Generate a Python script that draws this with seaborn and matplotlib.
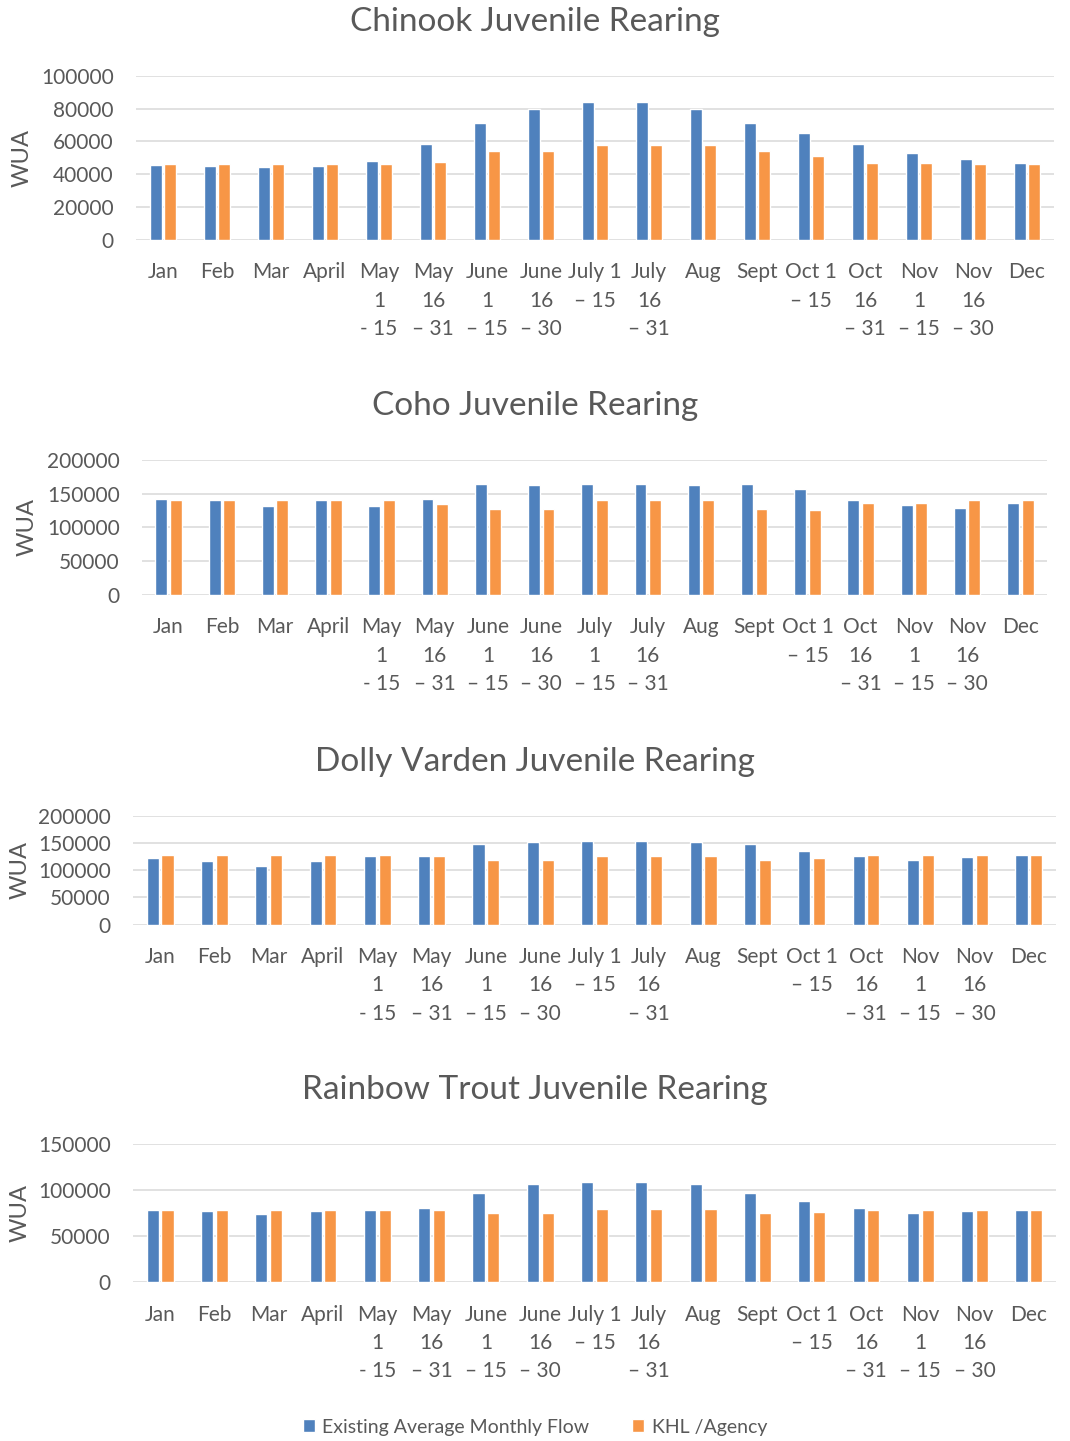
import pandas as pd
import matplotlib
matplotlib.use('Agg')
import matplotlib.pyplot as plt
import seaborn as sns
from matplotlib.patches import Patch

# Series names and colours
series_names = ['Existing Average Monthly Flow', 'KHL /Agency']
series_colors = ['#4F81BD', '#F79646']

# Tick labels (wrapped as in the original)
labels_main = ['Jan', 'Feb', 'Mar', 'April', 'May\n1\n- 15', 'May\n16\n\u2013 31',
               'June\n1\n\u2013 15', 'June\n16\n\u2013 30', 'July 1\n\u2013 15',
               'July\n16\n\u2013 31', 'Aug', 'Sept', 'Oct 1\n\u2013 15',
               'Oct\n16\n\u2013 31', 'Nov\n1\n\u2013 15', 'Nov\n16\n\u2013 30', 'Dec']
labels_coho = ['Jan', 'Feb', 'Mar', 'April', 'May\n1\n- 15', 'May\n16\n\u2013 31',
               'June\n1\n\u2013 15', 'June\n16\n\u2013 30', 'July\n1\n\u2013 15',
               'July\n16\n\u2013 31', 'Aug', 'Sept', 'Oct 1\n\u2013 15',
               'Oct\n16\n\u2013 31', 'Nov\n1\n\u2013 15', 'Nov\n16\n\u2013 30', 'Dec']

# Values
chinook_existing = [45600, 45300, 44200, 45300, 48300, 58600, 71100, 80000, 83800,
                    83800, 80000, 71100, 65000, 58600, 53100, 49300, 46700]
chinook_khl = [46300, 46300, 46300, 46300, 46300, 47500, 54300, 54300, 57800,
               57800, 57800, 54300, 51100, 46700, 46700, 46300, 46300]

coho_existing = [142100, 140200, 131800, 140200, 131800, 141600, 164300, 162800, 163800,
                 163800, 162800, 164300, 156900, 141100, 132300, 128300, 136700]
coho_khl = [139700, 139700, 139700, 139700, 139700, 133800, 127300, 127300, 140200,
            140200, 140200, 127300, 125900, 136700, 136700, 139700, 139700]

dolly_existing = [123200, 116500, 108000, 116500, 125700, 125700, 148300, 152600, 153200,
                  153200, 152600, 148300, 135500, 125700, 119000, 123900, 128100]
dolly_khl = [127500, 127500, 127500, 127500, 127500, 126900, 119000, 119000, 125700,
             125700, 125700, 119000, 122000, 128100, 128100, 128100, 128100]

rainbow_existing = [78300, 77200, 74600, 77200, 78600, 80400, 97100, 106500, 109100,
                    109100, 106500, 97100, 88800, 80400, 75700, 77900, 79000]
rainbow_khl = [78600, 78600, 78600, 78600, 78600, 78600, 75400, 75400, 79700,
               79700, 79700, 75400, 76800, 78600, 78600, 78600, 78600]

sns.set_theme(style='white')
plt.rcParams['font.family'] = ['Lato', 'DejaVu Sans']
text_color = '#595959'
grid_color = '#D9D9D9'

W, H = 1070, 1441
fig = plt.figure(figsize=(W / 100, H / 100), dpi=100)

# (title, labels, existing, khl, ymax, ystep, left px, right px, top px, bottom px, title y px, ylabel x px)
panels = [
    ('Chinook Juvenile Rearing', labels_main, chinook_existing, chinook_khl,
     100000, 20000, 136, 1054, 75.7, 240, 22, 33),
    ('Coho Juvenile Rearing', labels_coho, coho_existing, coho_khl,
     200000, 50000, 142, 1047, 459.7, 595, 406, 38),
    ('Dolly Varden Juvenile Rearing', labels_main, dolly_existing, dolly_khl,
     200000, 50000, 133, 1056, 815.7, 924.7, 762, 31),
    ('Rainbow Trout Juvenile Rearing', labels_main, rainbow_existing, rainbow_khl,
     150000, 50000, 133, 1056, 1144.3, 1282.3, 1090, 31),
]

for title, labels, existing, khl, ymax, ystep, left, right, top, bottom, ty, lx in panels:
    ax = fig.add_axes([left / W, 1 - bottom / H, (right - left) / W, (bottom - top) / H])
    df = pd.DataFrame({
        'period': labels * 2,
        'series': [series_names[0]] * len(labels) + [series_names[1]] * len(labels),
        'WUA': existing + khl,
    })
    sns.barplot(data=df, x='period', y='WUA', hue='series', hue_order=series_names,
                palette=series_colors, width=0.544, gap=0.18, saturation=1,
                legend=False, ax=ax)
    ax.set_ylim(0, ymax)
    ax.set_yticks(range(0, ymax + 1, ystep))
    ax.set_yticklabels([str(v) for v in range(0, ymax + 1, ystep)])
    ax.set_xlim(-0.5, len(labels) - 0.5)
    ax.set_axisbelow(True)
    ax.grid(axis='y', color=grid_color, linewidth=1.1)
    for s in ax.spines.values():
        s.set_visible(False)
    ax.tick_params(axis='both', length=0, labelsize=15, colors=text_color)
    ax.tick_params(axis='x', pad=16)
    ax.tick_params(axis='y', pad=16)
    for t in ax.get_xticklabels():
        t.set_linespacing(1.53)
    ax.set_xlabel('')
    ax.set_ylabel('WUA', fontsize=17, color=text_color)
    ax.yaxis.set_label_coords((lx - left) / (right - left), 0.5)
    fig.text(0.5, 1 - ty / H, title, ha='center', va='center', fontsize=24, color=text_color)

handles = [Patch(facecolor=c, label=n) for n, c in zip(series_names, series_colors)]
fig.legend(handles=handles, loc='center', bbox_to_anchor=(0.5, 1 - 1427 / H), ncol=2,
           frameon=False, fontsize=14, labelcolor=text_color, handlelength=0.6,
           handleheight=0.6, handletextpad=0.4, columnspacing=2.2)

fig.savefig('out.png', dpi=100)
